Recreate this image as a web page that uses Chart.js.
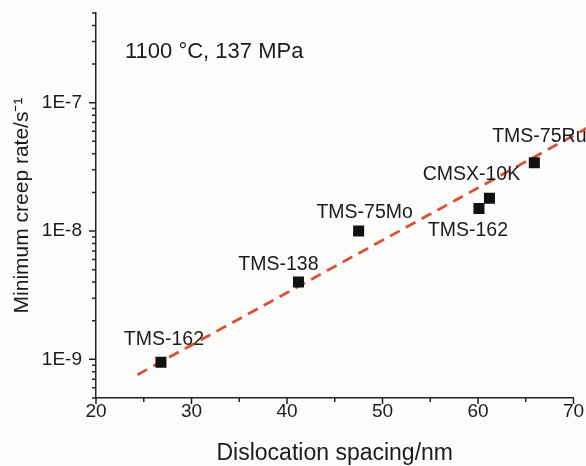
<!DOCTYPE html>
<html>
<head>
<meta charset="utf-8">
<script src="https://cdn.jsdelivr.net/npm/chart.js@4.4.1/dist/chart.umd.min.js"></script>
<style>
  html, body { margin: 0; padding: 0; background: #fcfcfa; }
  #wrap { width: 586px; height: 466px; }
</style>
</head>
<body>
<div id="wrap"><canvas id="myChart" width="586" height="466"></canvas></div>
<script>
// data
const alloys = ['TMS-162', 'TMS-138', 'TMS-75Mo', 'TMS-162', 'CMSX-10K', 'TMS-75Ru'];
const spacing = [26.8, 41.2, 47.5, 60.1, 61.2, 65.9];
const creepRate = [9.5e-10, 4.0e-9, 1.0e-8, 1.5e-8, 1.8e-8, 3.4e-8];

// dashed fit line end points
const fitSpacing = [24.35, 72];
const fitRate = [7.6e-10, 6.7e-8];

const xTickValues = [20, 25, 30, 35, 40, 45, 50, 55, 60, 65, 70];
const xTickLabels = ['20', '', '30', '', '40', '', '50', '', '60', '', '70'];
const yMajorValues = [1e-9, 1e-8, 1e-7];
const yTickLabels = ['1E-9', '1E-8', '1E-7'];

// label placement relative to point (dx to text centre, dy to baseline)
const labelOffsets = [[3, -17], [-20, -12], [6, -13], [-11, 28], [-18, -18], [5, -21]];

const note = '1100 \u00B0C, 137 MPa';

(() => {
  'use strict'

  const font = 'Liberation Sans, Arial, Helvetica, sans-serif'
  const ink = '#1b1b1b'

  // minor + major ticks of the log axis
  const yTicks = []
  for (let e = -10; e <= -7; e++) {
    for (let m = 1; m <= 9; m++) {
      const v = Number(m + 'e' + e)
      if (v >= 5e-10 - 1e-20 && v <= 5e-7 + 1e-20) yTicks.push(v)
    }
  }

  const isDecade = v => Math.abs(Math.log10(v) - Math.round(Math.log10(v))) < 1e-6

  const tickMarks = {
    id: 'tickMarks',
    afterDraw(chart) {
      const {ctx, scales: {x, y}, chartArea} = chart
      ctx.save()
      ctx.strokeStyle = '#222'
      ctx.lineWidth = 1.5
      ctx.beginPath()
      x.ticks.forEach(t => {
        const px = x.getPixelForValue(t.value)
        const len = t.value % 10 === 0 ? 6 : 4
        ctx.moveTo(px, chartArea.bottom)
        ctx.lineTo(px, chartArea.bottom + len)
      })
      y.ticks.forEach(t => {
        const py = y.getPixelForValue(t.value)
        const len = isDecade(t.value) ? 7 : 4
        ctx.moveTo(chartArea.left, py)
        ctx.lineTo(chartArea.left - len, py)
      })
      ctx.stroke()
      ctx.restore()
    }
  }

  const pointLabels = {
    id: 'pointLabels',
    afterDatasetsDraw(chart) {
      const {ctx} = chart
      const meta = chart.getDatasetMeta(1)
      ctx.save()
      ctx.fillStyle = ink
      ctx.font = '19.5px ' + font
      ctx.textAlign = 'center'
      ctx.textBaseline = 'alphabetic'
      meta.data.forEach((pt, i) => {
        const [dx, dy] = labelOffsets[i]
        ctx.fillText(alloys[i], pt.x + dx, pt.y + dy)
      })
      ctx.font = '22px ' + font
      ctx.textAlign = 'left'
      ctx.fillText(note, 125, 58)
      ctx.restore()
    }
  }

  const ctx = document.getElementById('myChart')
  new Chart(ctx, {
    type: 'scatter',
    data: {
      datasets: [
        {
          type: 'line',
          data: fitSpacing.map((v, i) => ({x: v, y: fitRate[i]})),
          borderColor: '#d9503b',
          borderWidth: 2.8,
          borderDash: [11, 7],
          pointRadius: 0,
          fill: false,
          clip: false,
          order: 2
        },
        {
          data: spacing.map((v, i) => ({x: v, y: creepRate[i]})),
          pointStyle: 'rect',
          pointRadius: 7.8,
          pointBackgroundColor: '#111',
          pointBorderColor: '#111',
          pointBorderWidth: 0,
          order: 1
        }
      ]
    },
    options: {
      responsive: false,
      animation: false,
      layout: {
        padding: {left: 0, top: 13, right: 12.5, bottom: 0}
      },
      plugins: {
        legend: {display: false},
        tooltip: {enabled: false}
      },
      scales: {
        x: {
          type: 'linear',
          min: 20,
          max: 70,
          afterBuildTicks: s => { s.ticks = xTickValues.map(v => ({value: v})) },
          afterFit: s => { s.height = 68; s.paddingLeft = 0; s.paddingRight = 0 },
          grid: {display: false, drawTicks: true, tickLength: 6},
          border: {display: true, color: '#222', width: 1.5},
          ticks: {
            autoSkip: false,
            maxRotation: 0,
            padding: -2,
            color: ink,
            font: {family: font, size: 19, lineHeight: 1},
            callback: v => xTickLabels[xTickValues.indexOf(v)] ?? ''
          },
          title: {
            display: true,
            text: 'Dislocation spacing/nm',
            color: ink,
            font: {family: font, size: 23, lineHeight: 1},
            padding: {top: 0, bottom: 1}
          }
        },
        y: {
          type: 'logarithmic',
          min: 5e-10,
          max: 5e-7,
          afterBuildTicks: s => { s.ticks = yTicks.map(v => ({value: v})) },
          afterFit: s => { s.width = 96; s.paddingTop = 0; s.paddingBottom = 0 },
          grid: {display: false, drawTicks: true, tickLength: 7},
          border: {display: true, color: '#222', width: 1.5},
          ticks: {
            autoSkip: false,
            padding: 7,
            color: ink,
            font: {family: font, size: 19, lineHeight: 1},
            callback: v => {
              if (!isDecade(v)) return ''
              const i = yMajorValues.findIndex(m => Math.abs(Math.log10(m) - Math.log10(v)) < 1e-6)
              return i >= 0 ? yTickLabels[i] : ''
            }
          },
          title: {
            display: true,
            text: 'Minimum creep rate/s\u207B\u00B9',
            color: ink,
            font: {family: font, size: 21, lineHeight: 1},
            padding: {top: 12, bottom: 0}
          }
        }
      }
    },
    plugins: [tickMarks, pointLabels]
  })
})();
</script>
</body>
</html>
